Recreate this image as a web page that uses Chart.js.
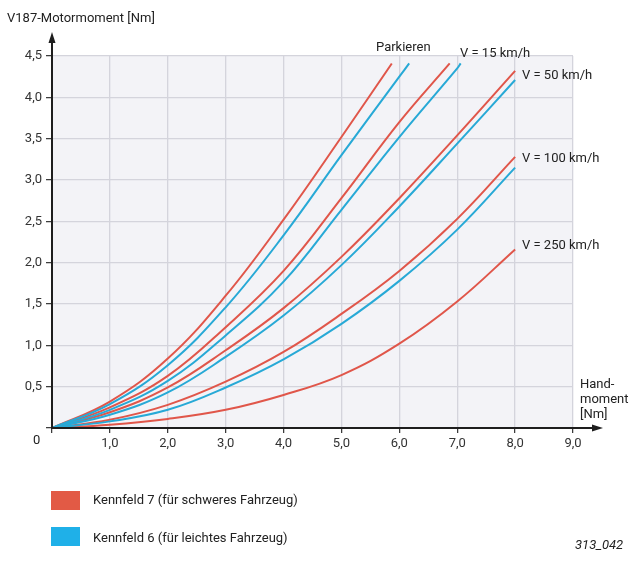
<!DOCTYPE html>
<html>
<head>
<meta charset="utf-8">
<script src="https://cdn.jsdelivr.net/npm/chart.js@4.4.0/dist/chart.umd.min.js"></script>
<style>
  html, body { margin: 0; padding: 0; background: #fff; }
  #wrap { position: relative; width: 640px; height: 566px; font-family: Roboto, "Noto Sans", sans-serif; color: #222; }
  #c { position: absolute; left: 0; top: 0; }
  .t { position: absolute; font-size: 13px; line-height: 15px; white-space: nowrap; color: #222; }
  .sq { position: absolute; width: 29px; height: 19px; }
</style>
</head>
<body>
<div id="wrap">
  <canvas id="c" width="640" height="566"></canvas>
  <div class="t" style="left:7px; top:10px;">V187-Motormoment [Nm]</div>
  <div class="t" style="left:376px; top:39px;">Parkieren</div>
  <div class="t" style="left:460px; top:45px;">V = 15 km/h</div>
  <div class="t" style="left:522px; top:67px;">V = 50 km/h</div>
  <div class="t" style="left:522px; top:150px;">V = 100 km/h</div>
  <div class="t" style="left:522px; top:237px;">V = 250 km/h</div>
  <div class="t" style="left:580px; top:376px; line-height:15px;">Hand-<br>moment<br>[Nm]</div>
  <div class="t" style="left:33px; top:432px;">0</div>
  <div class="sq" style="left:51px; top:491px; background:#e25a45;"></div>
  <div class="t" style="left:93px; top:492px;">Kennfeld 7 (für schweres Fahrzeug)</div>
  <div class="sq" style="left:51px; top:527px; background:#1fb0e8;"></div>
  <div class="t" style="left:93px; top:530px;">Kennfeld 6 (für leichtes Fahrzeug)</div>
  <div class="t" style="left:575px; top:537px; font-style:italic;">313_042</div>
</div>
<script>
// ---- data (Handmoment [Nm] -> V187-Motormoment [Nm]) ----
const xGrid = [0, 1, 2, 3, 4, 5, 6, 7, 8];

const k7ParkX = [0, 1, 2, 3, 4, 5, 5.87];
const k7ParkY = [0, 0.32, 0.84, 1.60, 2.52, 3.52, 4.41];
const k6ParkX = [0, 1, 2, 3, 4, 5, 6, 6.17];
const k6ParkY = [0, 0.29, 0.76, 1.46, 2.33, 3.30, 4.25, 4.41];

const k7V15X = [0, 1, 2, 3, 4, 5, 6, 6.87];
const k7V15Y = [0, 0.25, 0.63, 1.22, 1.90, 2.78, 3.70, 4.41];
const k6V15X = [0, 1, 2, 3, 4, 5, 6, 7, 7.06];
const k6V15Y = [0, 0.22, 0.57, 1.12, 1.77, 2.64, 3.52, 4.35, 4.41];

const k7V50Y = [0, 0.19, 0.49, 0.94, 1.45, 2.07, 2.78, 3.54, 4.32];
const k6V50Y = [0, 0.16, 0.43, 0.86, 1.36, 1.97, 2.68, 3.44, 4.21];

const k7V100Y = [0, 0.10, 0.28, 0.56, 0.92, 1.38, 1.90, 2.53, 3.28];
const k6V100Y = [0, 0.08, 0.22, 0.49, 0.83, 1.26, 1.78, 2.40, 3.15];

const k7V250Y = [0, 0.04, 0.11, 0.22, 0.40, 0.64, 1.02, 1.53, 2.16];

const xTicks = [1, 2, 3, 4, 5, 6, 7, 8, 9];
const yTicks = [0.5, 1, 1.5, 2, 2.5, 3, 3.5, 4, 4.5];

const RED = '#e0564a';
const BLUE = '#27a9d6';

function pts(xs, ys) { return xs.map((x, i) => ({ x: x, y: ys[i] })); }
function ds(xs, ys, color) {
  return {
    data: pts(xs, ys),
    borderColor: color,
    borderWidth: 2,
    pointRadius: 0,
    fill: false,
    tension: 0.4
  };
}

const fmt = v => (v === 0 ? '' : Number(v).toFixed(1).replace('.', ','));

const bgPlugin = {
  id: 'bg',
  beforeDraw(chart) {
    const a = chart.chartArea, ctx = chart.ctx;
    ctx.save();
    ctx.fillStyle = '#f3f3f7';
    ctx.fillRect(a.left, a.top, a.right - a.left, a.bottom - a.top);
    ctx.restore();
  },
  afterDraw(chart) {
    const a = chart.chartArea, ctx = chart.ctx;
    ctx.save();
    ctx.strokeStyle = '#1e1e1e';
    ctx.fillStyle = '#1e1e1e';
    ctx.lineWidth = 2;
    // y axis
    ctx.beginPath();
    ctx.moveTo(a.left, a.bottom + 1);
    ctx.lineTo(a.left, a.top - 16);
    ctx.stroke();
    ctx.beginPath();
    ctx.moveTo(a.left, a.top - 24);
    ctx.lineTo(a.left - 3.5, a.top - 13);
    ctx.lineTo(a.left + 3.5, a.top - 13);
    ctx.closePath();
    ctx.fill();
    // x axis
    ctx.beginPath();
    ctx.moveTo(a.left - 1, a.bottom);
    ctx.lineTo(a.right + 22, a.bottom);
    ctx.stroke();
    ctx.beginPath();
    ctx.moveTo(a.right + 30, a.bottom);
    ctx.lineTo(a.right + 19, a.bottom - 3.5);
    ctx.lineTo(a.right + 19, a.bottom + 3.5);
    ctx.closePath();
    ctx.fill();
    ctx.restore();
  }
};

Chart.defaults.font.family = 'Roboto, "Noto Sans", sans-serif';
Chart.defaults.font.size = 13;
Chart.defaults.color = '#333';

new Chart(document.getElementById('c'), {
  type: 'line',
  data: {
    datasets: [
      ds(k6ParkX, k6ParkY, BLUE),
      ds(k7ParkX, k7ParkY, RED),
      ds(k6V15X, k6V15Y, BLUE),
      ds(k7V15X, k7V15Y, RED),
      ds(xGrid, k6V50Y, BLUE),
      ds(xGrid, k7V50Y, RED),
      ds(xGrid, k6V100Y, BLUE),
      ds(xGrid, k7V100Y, RED),
      ds(xGrid, k7V250Y, RED)
    ]
  },
  options: {
    responsive: false,
    animation: false,
    events: [],
    layout: { padding: { left: 0, top: 56, right: 67, bottom: 108 } },
    plugins: { legend: { display: false }, tooltip: { enabled: false } },
    scales: {
      x: {
        type: 'linear',
        min: 0, max: 9,
        afterFit(s) { s.height = 30; },
        afterBuildTicks(s) { s.ticks = [0].concat(xTicks).map(v => ({ value: v })); },
        ticks: { callback: fmt, padding: 3, color: '#333', maxRotation: 0, autoSkip: false },
        grid: { color: '#d4d4dc', lineWidth: 1.3, tickColor: '#333', tickLength: 5, tickWidth: 1.2 },
        border: { display: false }
      },
      y: {
        type: 'linear',
        min: 0, max: 4.5,
        afterFit(s) { s.width = 52; },
        afterBuildTicks(s) { s.ticks = [0].concat(yTicks).map(v => ({ value: v })); },
        ticks: { callback: fmt, padding: 4, color: '#333', autoSkip: false },
        grid: { color: '#d4d4dc', lineWidth: 1.3, tickColor: '#333', tickLength: 6, tickWidth: 1.2 },
        border: { display: false }
      }
    }
  },
  plugins: [bgPlugin]
});
</script>
</body>
</html>
